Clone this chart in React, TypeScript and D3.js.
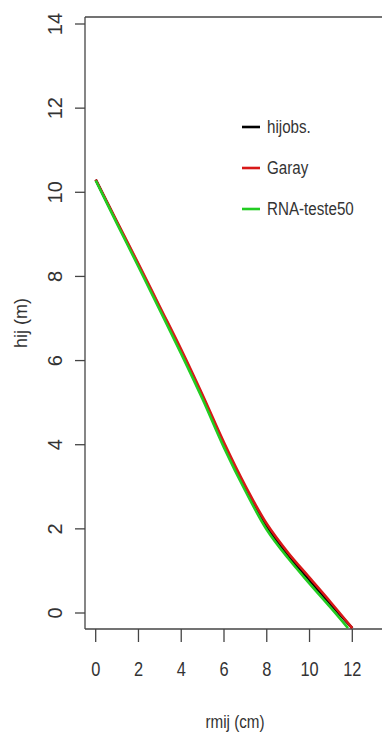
import * as d3 from "d3";

// rmij (cm) and hij (m)
const rmij = [0, 1, 2, 3, 4, 5, 6, 7, 8, 9, 10, 11, 12];
const hijObs = [10.3, 9.28, 8.27, 7.25, 6.22, 5.14, 4.0, 2.96, 2.05, 1.37, 0.78, 0.2, -0.36];
const garay = [10.3, 9.3, 8.3, 7.28, 6.26, 5.18, 4.05, 3.02, 2.12, 1.43, 0.84, 0.25, -0.36];
const rmijRna = [0, 1, 2, 3, 4, 5, 6, 7, 8, 9, 10, 11, 11.8];
const rnaTeste50 = [10.28, 9.25, 8.23, 7.2, 6.16, 5.08, 3.93, 2.9, 1.98, 1.3, 0.7, 0.12, -0.36];

const xTicks = [0, 2, 4, 6, 8, 10, 12];
const yTicks = [0, 2, 4, 6, 8, 10, 12, 14];
const legendLabels = ["hijobs.", "Garay", "RNA-teste50"];
const legendColors = ["#000000", "#d81818", "#22cc22"];

const W = 382;
const H = 738;
const plot = { left: 85, top: 17, bottom: 629 };

const App = () => {
  const x = d3.scaleLinear().domain([0, 12]).range([95.7, 352.3]);
  const y = d3.scaleLinear().domain([0, 14]).range([613, 24]);

  const line = d3
    .line<[number, number]>()
    .x((d) => x(d[0]))
    .y((d) => y(d[1]))
    .curve(d3.curveCatmullRom);

  const series = [
    { pts: rmij.map((r, i) => [r, hijObs[i]] as [number, number]), color: legendColors[0] },
    { pts: rmij.map((r, i) => [r, garay[i]] as [number, number]), color: legendColors[1] },
    { pts: rmijRna.map((r, i) => [r, rnaTeste50[i]] as [number, number]), color: legendColors[2] },
  ];

  const font = "'Liberation Sans', Arial, sans-serif";
  const textColor = "#333";
  const axisColor = "#444";

  return (
    <svg
      width={W}
      height={H}
      style={{ position: "absolute", left: 0, top: 0, background: "#fff" }}
      fontFamily={font}
    >
      {/* frame */}
      <line x1={plot.left} x2={W} y1={plot.top} y2={plot.top} stroke={axisColor} strokeWidth={1.3} />
      <line x1={plot.left} x2={W} y1={plot.bottom} y2={plot.bottom} stroke={axisColor} strokeWidth={1.3} />
      <line x1={plot.left} x2={plot.left} y1={plot.top} y2={plot.bottom} stroke={axisColor} strokeWidth={1.3} />

      {/* y axis */}
      {yTicks.map((t) => (
        <g key={"y" + t}>
          <line x1={75} x2={plot.left} y1={y(t)} y2={y(t)} stroke={axisColor} strokeWidth={1.3} />
          <text
            transform={`translate(62,${y(t)}) rotate(-90)`}
            textAnchor="middle"
            fontSize={20}
            fill={textColor}
          >
            {t}
          </text>
        </g>
      ))}

      {/* x axis */}
      {xTicks.map((t) => (
        <g key={"x" + t}>
          <line x1={x(t)} x2={x(t)} y1={plot.bottom} y2={642} stroke={axisColor} strokeWidth={1.3} />
          <text
            transform={`translate(${x(t)},676) scale(0.78,1)`}
            textAnchor="middle"
            fontSize={21}
            fill={textColor}
          >
            {t}
          </text>
        </g>
      ))}

      {/* axis titles */}
      <text transform="translate(235,728) scale(0.8,1)" textAnchor="middle" fontSize={19} fill={textColor}>
        rmij (cm)
      </text>
      <text transform="translate(27,323) rotate(-90)" textAnchor="middle" fontSize={18} fill={textColor}>
        hij (m)
      </text>

      {/* curves */}
      {series.map((s, i) => (
        <path key={i} d={line(s.pts) ?? ""} fill="none" stroke={s.color} strokeWidth={2.6} />
      ))}

      {/* legend */}
      {legendLabels.map((lab, i) => {
        const ly = 127 + i * 41;
        return (
          <g key={lab}>
            <line x1={242} x2={260} y1={ly} y2={ly} stroke={legendColors[i]} strokeWidth={2.6} />
            <text
              transform={`translate(267,${ly + 6}) scale(0.82,1)`}
              fontSize={18.5}
              fill={textColor}
            >
              {lab}
            </text>
          </g>
        );
      })}
    </svg>
  );
};

export default App;
